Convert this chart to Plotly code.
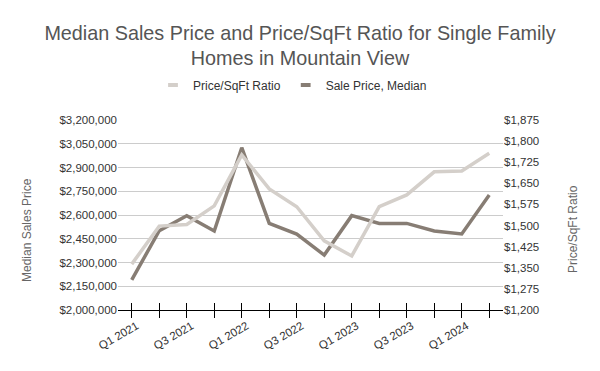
import plotly.graph_objects as go

quarters = ["Q1 2021", "Q2 2021", "Q3 2021", "Q4 2021",
            "Q1 2022", "Q2 2022", "Q3 2022", "Q4 2022",
            "Q1 2023", "Q2 2023", "Q3 2023", "Q4 2023",
            "Q1 2024", "Q2 2024"]
tick_labels = ["Q1 2021", "", "Q3 2021", "", "Q1 2022", "", "Q3 2022", "",
               "Q1 2023", "", "Q3 2023", "", "Q1 2024", ""]
price_per_sqft = [1363, 1498, 1504, 1570, 1751, 1630, 1567, 1446,
                  1392, 1567, 1609, 1691, 1694, 1757]
sale_price_median = [2190000, 2501000, 2596000, 2499000, 3025000, 2547000, 2480000,
                     2347000, 2596000, 2547000, 2547000, 2499000, 2480000, 2726000]
series_names = ["Price/SqFt Ratio", "Sale Price, Median"]

LIGHT = "#d4cfca"
DARK = "#877d74"
FONT = "Liberation Sans, Arial, sans-serif"

L, R, T, B = 118, 97, 120, 61
PW, PH = 600 - L - R, 371 - T - B

fig = go.Figure()
fig.add_trace(go.Scatter(x=quarters, y=price_per_sqft, name=series_names[0],
                         mode="lines", line=dict(color=LIGHT, width=3.5),
                         yaxis="y2", legendgroup="a", showlegend=False))
fig.add_trace(go.Scatter(x=quarters, y=sale_price_median, name=series_names[1],
                         mode="lines", line=dict(color=DARK, width=3.5),
                         yaxis="y", legendgroup="b", showlegend=False))
# legend entries with short swatches (no marks drawn in the plot)
for nm, col, grp in [(series_names[0], LIGHT, "a"), (series_names[1], DARK, "b")]:
    fig.add_trace(go.Scatter(x=[None], y=[None], name=nm, mode="markers",
                             marker=dict(symbol="line-ew", size=7,
                                         line=dict(width=4, color=col)),
                             legendgroup=grp, showlegend=True, hoverinfo="skip"))
# helper trace for the upward half of the crossing ticks
fig.add_trace(go.Scatter(x=quarters, y=sale_price_median, xaxis="x2", yaxis="y",
                         mode="lines", line=dict(width=0), opacity=0,
                         showlegend=False, hoverinfo="skip"))

fig.update_layout(
    width=600, height=371,
    margin=dict(l=L, r=R, t=T, b=B, autoexpand=False),
    paper_bgcolor="white", plot_bgcolor="white",
    font=dict(family=FONT, size=11.5, color="#333333"),
    title=dict(text="Median Sales Price and Price/SqFt Ratio for Single Family<br>Homes in Mountain View",
               x=0.5, xanchor="center", y=0.893, yanchor="top",
               font=dict(family=FONT, size=19.8, color="#555555")),
    legend=dict(orientation="h", x=(153 - L) / PW, xanchor="left", y=1 + (T - 85) / PH,
                yanchor="middle",
                font=dict(family=FONT, size=12, color="#333333"),
                traceorder="normal", itemwidth=30),
    showlegend=True,
    xaxis=dict(type="category", categoryorder="array", categoryarray=quarters,
               range=[-0.5, 13.5], tickmode="array", tickvals=quarters, ticktext=tick_labels,
               tickangle=-30, ticks="outside", ticklen=7, tickcolor="#000000", tickwidth=1,
               ticklabelshift=5, ticklabelstandoff=-3,
               showline=True, linecolor="#000000", linewidth=1, showgrid=False,
               zeroline=False, automargin=False, tickfont=dict(size=11.5, color="#333333")),
    xaxis2=dict(type="category", categoryorder="array", categoryarray=quarters,
                overlaying="x", anchor="y", side="bottom",
                range=[-0.5, 13.5], tickmode="array", tickvals=quarters,
                ticks="inside", ticklen=7, tickcolor="#000000", tickwidth=1,
                showticklabels=False, showline=False, showgrid=False, zeroline=False,
                automargin=False),
    yaxis=dict(range=[2000000, 3200000], dtick=150000, tick0=2000000,
               tickprefix="$", tickformat=",d", showgrid=True, gridcolor="#cccccc",
               gridwidth=1, zeroline=False, showline=False, ticks="",
               automargin=False, tickfont=dict(size=11.5, color="#333333")),
    yaxis2=dict(range=[1200, 1875], dtick=75, tick0=1200, overlaying="y", side="right",
                tickprefix="$", tickformat=",d", showgrid=False, zeroline=False,
                showline=False, ticks="", automargin=False,
                tickfont=dict(size=11.5, color="#333333")),
    annotations=[
        dict(text="Median Sales Price", xref="paper", yref="paper",
             x=(27 - L) / PW, y=(371 - B - 230) / PH, textangle=-90,
             showarrow=False, xanchor="center", yanchor="middle",
             font=dict(family=FONT, size=12, color="#666666")),
        dict(text="Price/SqFt Ratio", xref="paper", yref="paper",
             x=(573 - L) / PW, y=(371 - B - 229) / PH, textangle=-90,
             showarrow=False, xanchor="center", yanchor="middle",
             font=dict(family=FONT, size=12, color="#666666")),
    ],
)

fig.write_html("out.html", config={"displayModeBar": False},
               post_script="document.body.style.margin='0';document.body.style.overflow='hidden';")
